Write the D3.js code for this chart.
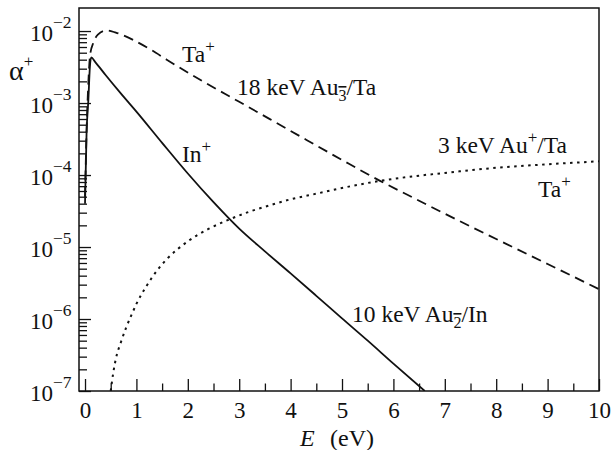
<!DOCTYPE html>
<html>
<head>
<meta charset="utf-8">
<script src="https://cdn.jsdelivr.net/npm/d3@7"></script>
<style>
  body { margin: 0; background: #fff; }
  svg { display: block; font-family: "Liberation Serif", "Times New Roman", serif; }
</style>
</head>
<body>
<svg id="chart" width="612" height="450"></svg>
<script>
// ---- data (E in eV, alpha+ ionization probability) ----
const inE     = [0, 0.03, 0.065, 0.095, 0.12, 0.2, 0.4, 0.7, 1.0, 1.5, 2.0, 2.5, 3.0, 3.5, 4.0, 4.5, 5.0, 5.5, 6.0, 6.61];
const inAlpha = [4.0e-5, 3.8e-4, 1.1e-3, 3.2e-3, 4.3e-3, 3.7e-3, 2.45e-3, 1.35e-3, 7.6e-4, 2.8e-4, 1.05e-4, 4.2e-5, 1.8e-5, 8.7e-6, 4.3e-6, 2.1e-6, 1.02e-6, 5.0e-7, 2.4e-7, 1.0e-7];

const ta18E     = [0, 0.03, 0.06, 0.1, 0.16, 0.25, 0.42, 0.6, 0.94, 1.3, 1.59, 2.24, 3, 4, 5, 5.74, 6.5, 7, 8, 9, 10];
const ta18Alpha = [5.0e-5, 4.0e-4, 1.6e-3, 4.7e-3, 6.8e-3, 8.9e-3, 1.02e-2, 9.5e-3, 7.5e-3, 5.4e-3, 4.0e-3, 2.1e-3, 1.04e-3, 4.1e-4, 1.62e-4, 8.3e-5, 4.4e-5, 2.9e-5, 1.29e-5, 5.8e-6, 2.6e-6];

const ta3E     = [0.5, 0.55, 0.6, 0.7, 0.8, 0.9, 1.0, 1.2, 1.4, 1.6, 1.8, 2.0, 2.4, 2.8, 3.2, 3.6, 4.0, 4.5, 5.0, 5.74, 6.5, 7, 8, 9, 10];
const ta3Alpha = [1.0e-7, 1.8e-7, 2.8e-7, 4.8e-7, 7.6e-7, 1.12e-6, 1.62e-6, 2.9e-6, 4.7e-6, 6.9e-6, 9.3e-6, 1.2e-5, 1.78e-5, 2.4e-5, 3.1e-5, 3.8e-5, 4.6e-5, 5.5e-5, 6.6e-5, 8.3e-5, 9.8e-5, 1.07e-4, 1.26e-4, 1.41e-4, 1.55e-4];

const xTicks = [0, 1, 2, 3, 4, 5, 6, 7, 8, 9, 10];
const xMinorTicks = [0.5, 1.5, 2.5, 3.5, 4.5, 5.5, 6.5, 7.5, 8.5, 9.5];
const yExponents = [-7, -6, -5, -4, -3, -2];

// ---- layout ----
const L = 79, R = 599, T = 8, B = 391;
const svg = d3.select("#chart");

const x = d3.scaleLinear().domain([-0.117, 10]).range([L, R]);
const y = d3.scaleLog().domain([1e-7, Math.pow(10, -1.68)]).range([B, T]);

const FS = 23;     // tick labels
const FA = 23.5;   // annotations

// clip
svg.append("defs").append("clipPath").attr("id", "clip")
  .append("rect").attr("x", L).attr("y", T).attr("width", R - L).attr("height", B - T);

// x axis ticks (inward)
const gx = svg.append("g").attr("transform", `translate(0,${B})`)
  .call(d3.axisBottom(x).tickValues(xTicks).tickSizeInner(-12).tickSizeOuter(0).tickPadding(11).tickFormat(d3.format("d")));
const gxm = svg.append("g").attr("transform", `translate(0,${B})`)
  .call(d3.axisBottom(x).tickValues(xMinorTicks).tickSizeInner(-7.5).tickSizeOuter(0).tickFormat(""));

// y axis ticks (inward)
const yMajor = yExponents.map(e => Math.pow(10, e));
const yMinor = [];
yExponents.slice(0, -1).forEach(e => { for (let k = 2; k <= 9; k++) yMinor.push(k * Math.pow(10, e)); });
const gy = svg.append("g").attr("transform", `translate(${L},0)`)
  .call(d3.axisLeft(y).tickValues(yMajor).tickSizeInner(-12).tickSizeOuter(0).tickFormat(""));
const gym = svg.append("g").attr("transform", `translate(${L},0)`)
  .call(d3.axisLeft(y).tickValues(yMinor).tickSizeInner(-8).tickSizeOuter(0).tickFormat(""));

[gx, gxm, gy, gym].forEach(g => {
  g.select(".domain").remove();
  g.selectAll("line").attr("stroke", "#111").attr("stroke-width", 1.3);
});
gx.selectAll("text").attr("font-size", FS).attr("fill", "#111").attr("font-family", "Liberation Serif");

// y tick labels 10^n
yExponents.forEach(e => {
  const yy = y(Math.pow(10, e));
  const t = svg.append("text").attr("x", 30).attr("y", yy + 10).attr("font-size", FS).attr("fill", "#111");
  t.append("tspan").text("10");
  t.append("tspan").attr("dy", -13).attr("font-size", 17.5).text("\u2212" + Math.abs(e));
});

// frame
svg.append("rect").attr("x", L).attr("y", T).attr("width", R - L).attr("height", B - T)
  .attr("fill", "none").attr("stroke", "#111").attr("stroke-width", 1.5);

// curves
const line = d3.line().x(d => x(d[0])).y(d => y(d[1])).curve(d3.curveMonotoneX);
const plot = svg.append("g").attr("clip-path", "url(#clip)");
plot.append("path").datum(d3.zip(inE, inAlpha)).attr("d", line)
  .attr("fill", "none").attr("stroke", "#111").attr("stroke-width", 1.8);
plot.append("path").datum(d3.zip(ta18E, ta18Alpha)).attr("d", line)
  .attr("fill", "none").attr("stroke", "#111").attr("stroke-width", 1.8).attr("stroke-dasharray", "10,6");
plot.append("path").datum(d3.zip(ta3E, ta3Alpha)).attr("d", line)
  .attr("fill", "none").attr("stroke", "#111").attr("stroke-width", 2).attr("stroke-dasharray", "2.5,4.5");

// annotations
function label(xp, yp, parts, fs) {
  const t = svg.append("text").attr("x", xp).attr("y", yp).attr("font-size", fs || FA).attr("fill", "#111");
  parts.forEach(p => {
    const s = t.append("tspan").text(p.t);
    if (p.dy) s.attr("dy", p.dy);
    if (p.dx) s.attr("dx", p.dx);
    if (p.fs) s.attr("font-size", p.fs);
    if (p.it) s.attr("font-style", "italic");
    if (p.ov) s.attr("text-decoration", "overline");
  });
  return t;
}
label(182, 62, [{t: "Ta"}, {t: "+", dy: -10, fs: 17}]);
label(237, 95, [{t: "18 keV Au"}, {t: "3", dy: 6, fs: 16, ov: true}, {t: "/Ta", dy: -6}]);
label(182, 162, [{t: "In"}, {t: "+", dy: -10, fs: 17}]);
label(438, 153, [{t: "3 keV Au"}, {t: "+", dy: -10, fs: 17}, {t: "/Ta", dy: 10}]);
label(538, 197, [{t: "Ta"}, {t: "+", dy: -10, fs: 17}]);
label(352, 322, [{t: "10 keV Au"}, {t: "2", dy: 6, fs: 16, ov: true}, {t: "/In", dy: -6}]);
label(9, 80, [{t: "\u03B1", fs: 28}, {t: "+", dy: -13, fs: 17}], 28);
label(300, 446, [{t: "E", it: true}], 24);
label(330, 446, [{t: "(eV)"}], 24);
</script>
</body>
</html>
